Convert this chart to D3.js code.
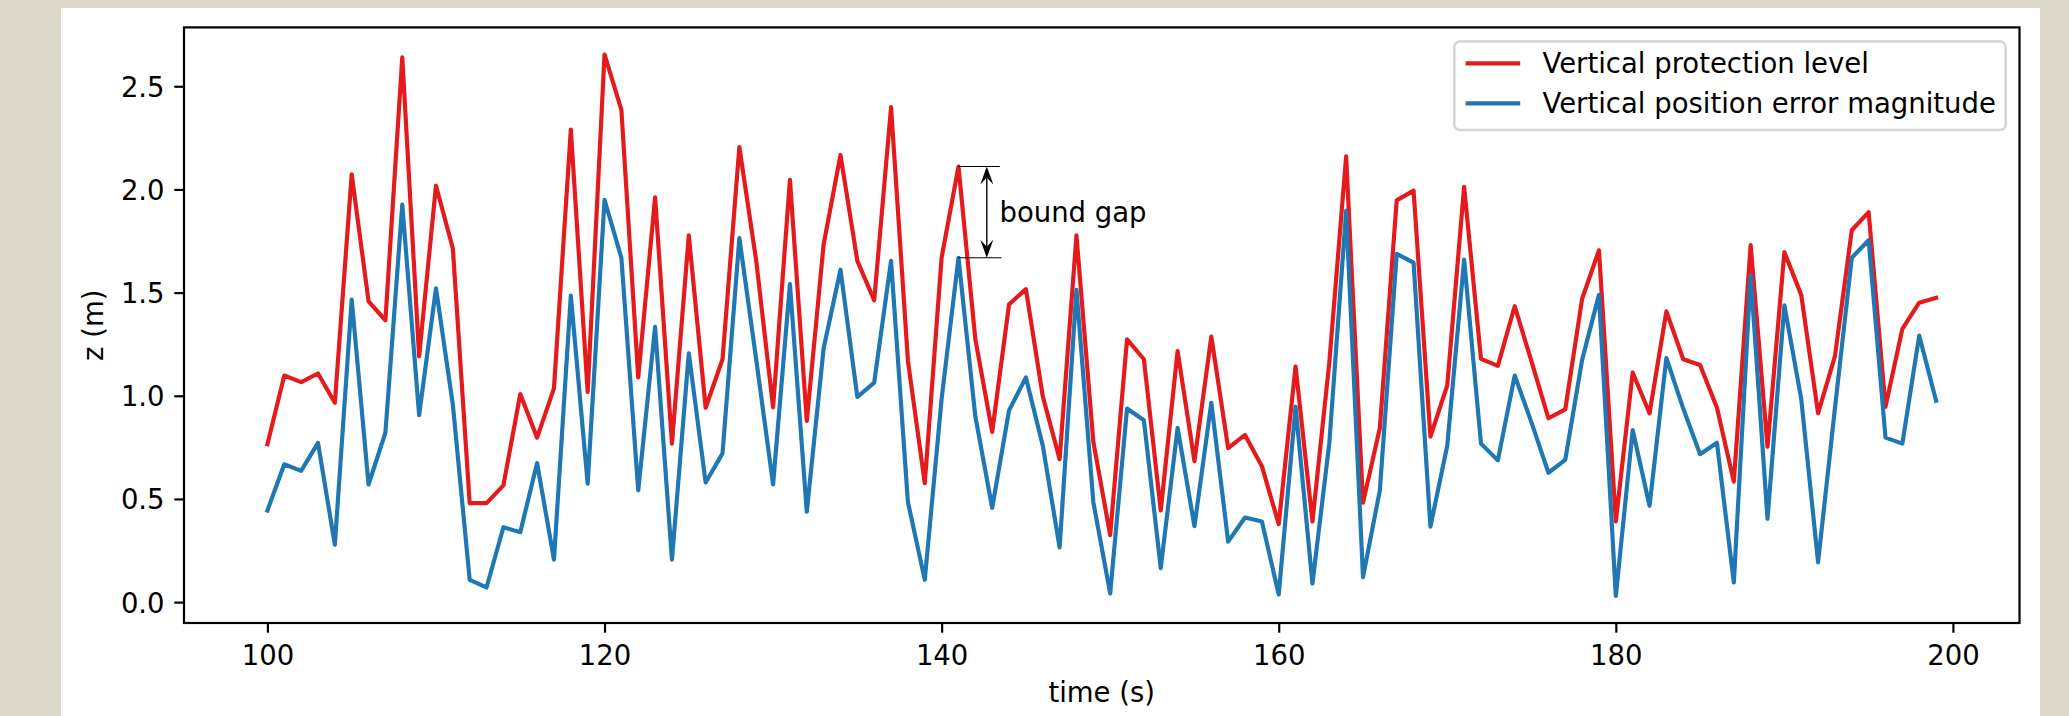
<!DOCTYPE html>
<html>
<head>
<meta charset="utf-8">
<script src="https://cdn.jsdelivr.net/npm/d3@7"></script>
<style>
  html, body { margin: 0; padding: 0; background: #dbd8cb; }
  svg { display: block; }
  text { font-family: "DejaVu Sans", sans-serif; }
</style>
</head>
<body>
<svg id="chart" width="2069" height="716"></svg>
<script>
// ---- data ----
const times = d3.range(100, 200);
const vplValues = [
  0.765, 1.098, 1.066, 1.108, 0.966, 2.073, 1.458, 1.366, 2.640, 1.191,
  2.018, 1.715, 0.480, 0.480, 0.566, 1.008, 0.797, 1.036, 2.290, 1.019,
  2.654, 2.386, 1.089, 1.962, 0.768, 1.777, 0.942, 1.177, 2.205, 1.654,
  0.944, 2.047, 0.878, 1.734, 2.167, 1.654, 1.462, 2.399, 1.170, 0.576,
  1.670, 2.111, 1.274, 0.825, 1.443, 1.517, 0.998, 0.693, 1.777, 0.778,
  0.325, 1.274, 1.177, 0.444, 1.217, 0.683, 1.287, 0.746, 0.810, 0.659,
  0.378, 1.142, 0.391, 1.160, 2.160, 0.482, 0.844, 1.947, 1.994, 0.802,
  1.051, 2.013, 1.179, 1.145, 1.434, 1.165, 0.891, 0.934, 1.470, 1.705,
  0.391, 1.113, 0.915, 1.409, 1.177, 1.149, 0.942, 0.584, 1.730, 0.753,
  1.696, 1.489, 0.915, 1.192, 1.802, 1.890, 0.947, 1.324, 1.451, 1.475
];
const vpeValues = [
  0.444, 0.668, 0.636, 0.772, 0.278, 1.466, 0.570, 0.821, 1.926, 0.906,
  1.521, 0.957, 0.108, 0.071, 0.363, 0.339, 0.674, 0.206, 1.485, 0.574,
  1.950, 1.668, 0.542, 1.334, 0.206, 1.206, 0.580, 0.721, 1.764, 1.175,
  0.570, 1.541, 0.438, 1.230, 1.611, 0.994, 1.064, 1.654, 0.485, 0.108,
  0.985, 1.669, 0.900, 0.457, 0.929, 1.089, 0.759, 0.265, 1.513, 0.485,
  0.042, 0.938, 0.881, 0.165, 0.844, 0.368, 0.966, 0.293, 0.410, 0.391,
  0.037, 0.947, 0.090, 0.770, 1.896, 0.121, 0.542, 1.688, 1.645, 0.366,
  0.759, 1.660, 0.768, 0.687, 1.098, 0.870, 0.627, 0.689, 1.174, 1.489,
  0.030, 0.834, 0.467, 1.183, 0.938, 0.717, 0.772, 0.095, 1.583, 0.404,
  1.438, 0.985, 0.193, 0.940, 1.669, 1.754, 0.797, 0.768, 1.292, 0.976
];
const seriesNames = ["Vertical protection level", "Vertical position error magnitude"];
const seriesColors = ["#e41a1c", "#1f77b4"];
const xTicks = [100, 120, 140, 160, 180, 200];
const yTicks = [0.0, 0.5, 1.0, 1.5, 2.0, 2.5];
const gapTime = 141;           // time of the annotated bound gap
const gapLabel = "bound gap";

// ---- layout ----
const FS = 27.5;
const plot = { left: 184, top: 27.4, right: 2019.5, bottom: 623 };
const svg = d3.select("#chart");

svg.append("rect").attr("x", 61).attr("y", 8).attr("width", 1979).attr("height", 720).attr("fill", "#ffffff");

const xExt = d3.extent(times), xPad = 0.05 * (xExt[1] - xExt[0]);
const allY = vplValues.concat(vpeValues);
const yExt = d3.extent(allY), yPad = 0.05 * (yExt[1] - yExt[0]);

const x = d3.scaleLinear().domain([xExt[0] - xPad, xExt[1] + xPad]).range([plot.left, plot.right]);
const y = d3.scaleLinear().domain([yExt[0] - yPad, yExt[1] + yPad]).range([plot.bottom, plot.top]);

// clip
svg.append("defs").append("clipPath").attr("id", "clip")
  .append("rect").attr("x", plot.left).attr("y", plot.top)
  .attr("width", plot.right - plot.left).attr("height", plot.bottom - plot.top);

// lines
const line = d3.line().x(d => x(d[0])).y(d => y(d[1]));
const seriesData = [vplValues, vpeValues];
seriesData.forEach((vals, i) => {
  svg.append("path")
    .attr("clip-path", "url(#clip)")
    .attr("d", line(times.map((t, j) => [t, vals[j]])))
    .attr("fill", "none")
    .attr("stroke", seriesColors[i])
    .attr("stroke-width", 4.17)
    .attr("stroke-linejoin", "round")
    .attr("stroke-linecap", "square");
});

// annotation
const gi = times.indexOf(gapTime);
const gTop = vplValues[gi], gBot = vpeValues[gi];
const ann = svg.append("g");
[[gTop, gapTime + 2.45], [gBot, gapTime + 2.55]].forEach(([v, xe]) => {
  ann.append("line")
    .attr("x1", x(gapTime)).attr("x2", x(xe))
    .attr("y1", y(v)).attr("y2", y(v))
    .attr("stroke", "#000").attr("stroke-width", 1.1);
});
const ax = x(gapTime + 1.68);
const yT = y(gTop), yB = y(gBot);
ann.append("line").attr("x1", ax).attr("x2", ax).attr("y1", yT + 10).attr("y2", yB - 10)
  .attr("stroke", "#000").attr("stroke-width", 1.4);
const headL = 18, headW = 6.5, notch = 11;
ann.append("path")
  .attr("d", `M${ax},${yT} L${ax - headW},${yT + headL} L${ax},${yT + notch} L${ax + headW},${yT + headL} Z`)
  .attr("fill", "#000");
ann.append("path")
  .attr("d", `M${ax},${yB} L${ax - headW},${yB - headL} L${ax},${yB - notch} L${ax + headW},${yB - headL} Z`)
  .attr("fill", "#000");
ann.append("text")
  .attr("x", x(gapTime + 2.43))
  .attr("y", (yT + yB) / 2 + 0.35 * FS)
  .attr("font-size", FS)
  .attr("fill", "#000")
  .text(gapLabel);

// axes frame
svg.append("rect")
  .attr("x", plot.left).attr("y", plot.top)
  .attr("width", plot.right - plot.left).attr("height", plot.bottom - plot.top)
  .attr("fill", "none").attr("stroke", "#000").attr("stroke-width", 2.2);

// x axis
const xAxis = d3.axisBottom(x).tickValues(xTicks).tickSize(9.7).tickPadding(9.7).tickFormat(d3.format("d"));
const gx = svg.append("g").attr("transform", `translate(0,${plot.bottom})`).call(xAxis);
gx.select(".domain").remove();
gx.selectAll(".tick line").attr("stroke", "#000").attr("stroke-width", 2.2);
gx.selectAll(".tick text").attr("font-size", FS).attr("font-family", "DejaVu Sans").attr("fill", "#000")
  .attr("dy", null).attr("y", 41.5);

// y axis
const yAxis = d3.axisLeft(y).tickValues(yTicks).tickSize(9.7).tickPadding(9.7).tickFormat(d3.format(".1f"));
const gy = svg.append("g").attr("transform", `translate(${plot.left},0)`).call(yAxis);
gy.select(".domain").remove();
gy.selectAll(".tick line").attr("stroke", "#000").attr("stroke-width", 2.2);
gy.selectAll(".tick text").attr("font-size", FS).attr("font-family", "DejaVu Sans").attr("fill", "#000")
  .attr("dy", "0.36em");

// axis labels
svg.append("text")
  .attr("x", (plot.left + plot.right) / 2).attr("y", 701.7)
  .attr("text-anchor", "middle").attr("font-size", FS).attr("fill", "#000")
  .text("time (s)");
svg.append("text")
  .attr("transform", `translate(103,${(plot.top + plot.bottom) / 2}) rotate(-90)`)
  .attr("text-anchor", "middle").attr("font-size", FS).attr("fill", "#000")
  .text("z (m)");

// legend
const lg = svg.append("g");
lg.append("rect")
  .attr("x", 1454.3).attr("y", 41.5).attr("width", 2005.7 - 1454.3).attr("height", 130 - 41.5)
  .attr("rx", 5.6).attr("ry", 5.6)
  .attr("fill", "#ffffff").attr("fill-opacity", 0.8)
  .attr("stroke", "#d6d6d6").attr("stroke-width", 2.6);
seriesNames.forEach((name, i) => {
  const ly = 63.3 + i * 40;
  lg.append("line").attr("x1", 1465.6).attr("x2", 1520.2).attr("y1", ly).attr("y2", ly)
    .attr("stroke", seriesColors[i]).attr("stroke-width", 4.17).attr("stroke-linecap", "butt");
  lg.append("text").attr("x", 1542.5).attr("y", ly + 0.36 * FS)
    .attr("font-size", FS).attr("fill", "#000").text(name);
});
</script>
</body>
</html>
